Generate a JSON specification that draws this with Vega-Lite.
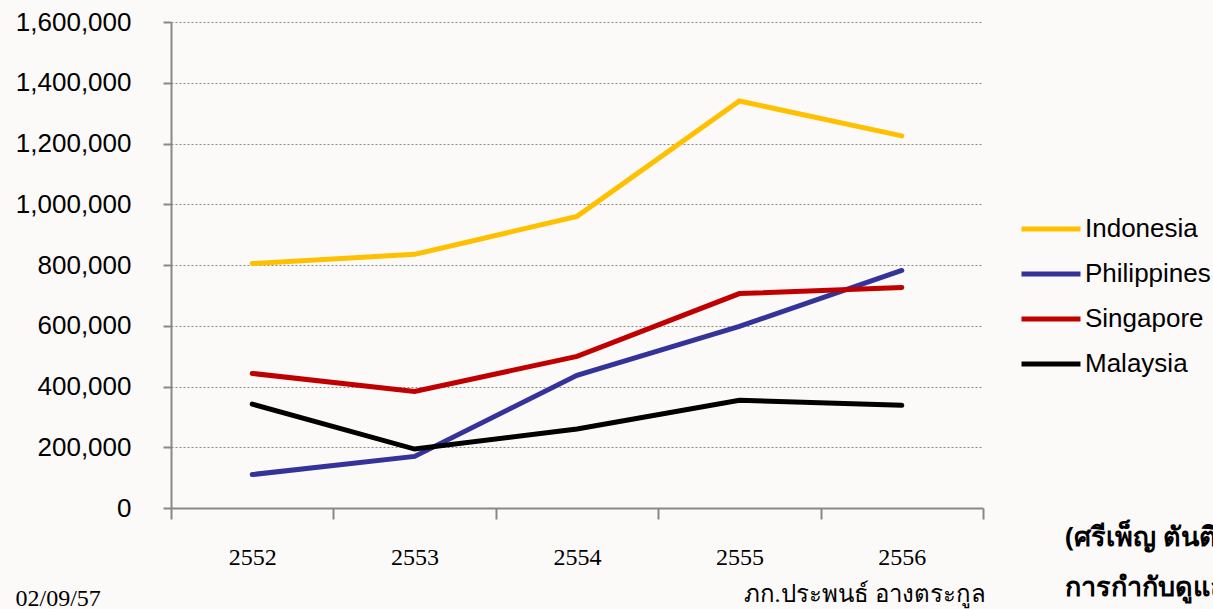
{
  "$schema": "https://vega.github.io/schema/vega-lite/v6.json",
  "width": 812,
  "height": 486,
  "autosize": {"type": "none"},
  "padding": {"left": 171, "top": 22, "right": 230, "bottom": 101},
  "background": "#fcf9f9",
  "title": {
    "text": ["(ศรีเพ็ญ ตันติเวสส", "การกำกับดูแลด้านยา"],
    "orient": "top",
    "anchor": "start",
    "frame": "group",
    "align": "left",
    "baseline": "alphabetic",
    "offset": 0,
    "dx": 894,
    "dy": 614,
    "fontSize": 27,
    "fontWeight": "bold",
    "font": "Noto Sans",
    "color": "black",
    "lineHeight": 50
  },
  "data": {
    "values": [
      {"year": "2552", "country": "Indonesia", "value": 805000},
      {"year": "2553", "country": "Indonesia", "value": 835000},
      {"year": "2554", "country": "Indonesia", "value": 960000},
      {"year": "2555", "country": "Indonesia", "value": 1340000},
      {"year": "2556", "country": "Indonesia", "value": 1225000},
      {"year": "2552", "country": "Philippines", "value": 110000},
      {"year": "2553", "country": "Philippines", "value": 170000},
      {"year": "2554", "country": "Philippines", "value": 437000},
      {"year": "2555", "country": "Philippines", "value": 598000},
      {"year": "2556", "country": "Philippines", "value": 782000},
      {"year": "2552", "country": "Singapore", "value": 443000},
      {"year": "2553", "country": "Singapore", "value": 384000},
      {"year": "2554", "country": "Singapore", "value": 499000},
      {"year": "2555", "country": "Singapore", "value": 706000},
      {"year": "2556", "country": "Singapore", "value": 726000},
      {"year": "2552", "country": "Malaysia", "value": 342000},
      {"year": "2553", "country": "Malaysia", "value": 194000},
      {"year": "2554", "country": "Malaysia", "value": 260000},
      {"year": "2555", "country": "Malaysia", "value": 355000},
      {"year": "2556", "country": "Malaysia", "value": 338000}
    ]
  },
  "mark": {"type": "line", "strokeWidth": 5, "strokeCap": "round"},
  "encoding": {
    "x": {
      "field": "year",
      "type": "ordinal",
      "bandPosition": 0.5,
      "scale": {"type": "band", "paddingInner": 0, "paddingOuter": 0},
      "axis": {
        "tickBand": "extent",
        "grid": false,
        "domainColor": "#888888",
        "domainWidth": 2,
        "tickColor": "#888888",
        "tickWidth": 2,
        "tickSize": 11,
        "labelAngle": 0,
        "labelFont": "Liberation Serif",
        "labelFontSize": 24,
        "labelColor": "black",
        "labelPadding": 26,
        "title": "ภก.ประพนธ์ อางตระกูล",
        "titleX": 693,
        "titleY": 93,
        "titleAlign": "center",
        "titleBaseline": "alphabetic",
        "titleFont": "Liberation Serif",
        "titleFontSize": 24,
        "titleFontWeight": "normal",
        "titleColor": "black"
      }
    },
    "y": {
      "field": "value",
      "type": "quantitative",
      "scale": {"domain": [0, 1600000], "nice": false},
      "axis": {
        "values": [0, 200000, 400000, 600000, 800000, 1000000, 1200000, 1400000, 1600000],
        "format": ",d",
        "grid": true,
        "gridDash": [2, 2],
        "gridColor": "#888888",
        "gridWidth": 1,
        "domainColor": "#888888",
        "domainWidth": 2,
        "tickColor": "#888888",
        "tickWidth": 2,
        "tickSize": 8,
        "labelFont": "Liberation Sans",
        "labelFontSize": 26,
        "labelColor": "black",
        "labelPadding": 32,
        "title": "02/09/57",
        "titleAngle": 0,
        "titleX": -156,
        "titleY": 583,
        "titleAlign": "left",
        "titleBaseline": "alphabetic",
        "titleFont": "Liberation Serif",
        "titleFontSize": 24,
        "titleFontWeight": "normal",
        "titleColor": "black"
      }
    },
    "color": {
      "field": "country",
      "type": "nominal",
      "sort": ["Indonesia", "Philippines", "Singapore", "Malaysia"],
      "scale": {
        "domain": ["Indonesia", "Philippines", "Singapore", "Malaysia"],
        "range": ["#FFC000", "#333399", "#C00000", "#000000"]
      },
      "legend": {
        "orient": "none",
        "legendX": 848,
        "legendY": 175,
        "title": null,
        "symbolType": "stroke",
        "symbolSize": 3481,
        "symbolStrokeWidth": 5,
        "labelFont": "Liberation Sans",
        "labelFontSize": 26,
        "labelColor": "black",
        "labelOffset": 2,
        "rowPadding": -14
      }
    }
  },
  "config": {"view": {"stroke": null}}
}
